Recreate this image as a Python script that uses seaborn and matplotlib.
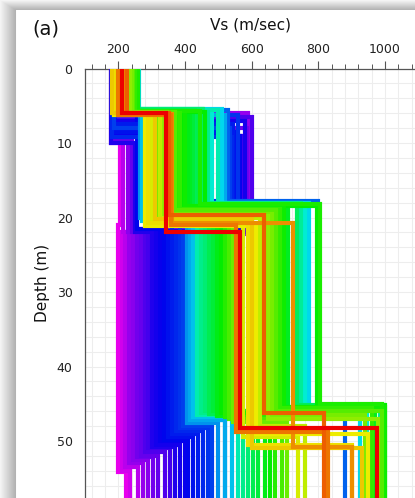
import colorsys
import numpy as np
import pandas as pd
import matplotlib
matplotlib.use("Agg")
import matplotlib.pyplot as plt
from matplotlib.ticker import MultipleLocator
import seaborn as sns

# ---- data ----
# misfit index (0 = best / red, 1 = worst / magenta), drawn worst first
misfit = [1.00, 0.98, 0.96, 0.93, 0.92, 0.90, 0.89, 0.87, 0.86,
          0.83, 0.82, 0.81, 0.80, 0.79, 0.78, 0.77, 0.76, 0.75,
          0.72, 0.70, 0.68, 0.66, 0.64, 0.62, 0.58, 0.55, 0.53, 0.52, 0.50,
          0.48, 0.47, 0.45, 0.43, 0.42, 0.40, 0.40, 0.39, 0.38, 0.37, 0.36,
          0.34, 0.33, 0.31, 0.30, 0.28, 0.24, 0.22, 0.20, 0.19, 0.17,
          0.12, 0.10, 0.08, 0.00]
vs1 = [178, 185, 180, 190, 182, 188, 180, 192, 185,
       178, 190, 184, 195, 180, 188, 182, 192, 186,
       250, 200, 196, 200, 198, 262, 255, 250, 260, 255, 245,
       258, 258, 250, 248, 245, 252, 245, 255, 258, 240, 250,
       235, 245, 230, 240, 235, 192, 185, 188, 190, 182,
       222, 200, 225, 212]
h1 = [10.0, 9.0, 9.6, 6.0, 9.8, 8.0, 9.5, 6.5, 9.0,
      10.0, 7.0, 9.0, 6.0, 8.5, 7.5, 9.2, 6.2, 8.0,
      5.6, 6.3, 6.0, 6.3, 6.0, 5.5, 5.6, 5.6, 5.5, 5.8, 5.5,
      5.6, 5.7, 5.9, 5.8, 6.0, 5.8, 5.8, 5.7, 5.7, 6.0, 6.0,
      6.1, 5.8, 6.0, 5.9, 6.0, 6.0, 6.0, 6.2, 6.1, 6.0,
      6.1, 6.2, 6.0, 6.0]
vs2 = [205, 595, 215, 590, 228, 585, 240, 600, 575,
       250, 580, 565, 255, 555, 545, 540, 560, 535,
       530, 520, 265, 520, 270, 510, 480, 500, 450, 470, 455,
       430, 440, 425, 415, 410, 395, 460, 400, 445, 380, 385,
       330, 370, 315, 345, 335, 325, 300, 280, 290, 310,
       362, 358, 352, 343]
h2 = [21.0, 22.0, 22.0, 22.2, 22.0, 21.5, 22.0, 22.0, 21.8,
      22.0, 18.0, 22.0, 21.5, 21.8, 17.8, 22.0, 21.0, 22.0,
      17.8, 18.0, 20.0, 21.0, 20.5, 18.0, 18.3, 19.5, 18.0, 19.0, 18.8,
      18.2, 19.2, 19.0, 18.6, 18.6, 19.4, 18.4, 18.5, 18.2, 19.0, 18.8,
      20.0, 19.0, 20.2, 19.5, 19.8, 20.0, 20.5, 21.2, 20.8, 20.2,
      20.8, 21.0, 19.6, 22.0]
vs3 = [200, 210, 220, 232, 244, 256, 268, 280, 290,
       300, 312, 324, 336, 348, 360, 372, 384, 395,
       800, 415, 405, 415, 425, 772, 760, 435, 748, 447, 459,
       735, 471, 483, 708, 495, 507, 795, 696, 805, 519, 684,
       531, 672, 543, 660, 648, 625, 575, 612, 588, 600,
       723, 552, 636, 564]
h3 = [54.2, 54.0, 53.5, 53.0, 52.6, 52.2, 52.0, 51.5, 51.0,
      50.8, 50.5, 50.0, 49.8, 49.4, 49.0, 48.6, 48.2, 48.0,
      46.0, 47.2, 47.6, 47.2, 46.8, 45.8, 45.6, 46.5, 45.3, 46.2, 46.0,
      45.2, 46.4, 46.0, 45.5, 46.6, 46.2, 45.2, 45.4, 45.0, 46.8, 45.6,
      47.0, 46.0, 47.5, 46.5, 47.0, 48.0, 49.5, 49.0, 50.5, 51.0,
      50.8, 48.8, 46.3, 48.2]
vs4 = [222, 235, 260, 275, 290, 305, 320, 340, 355,
       370, 385, 400, 410, 425, 440, 455, 470, 480,
       880, 520, 500, 520, 540, 925, 945, 560, 985, 575, 590,
       995, 605, 620, 970, 640, 655, 1000, 1000, 990, 670, 960,
       690, 990, 705, 940, 980, 760, 740, 950, 900, 930,
       900, 830, 818, 976]

BOTTOM = 60.0

# ---- figure ----
W, H = 415, 498
fig = plt.figure(figsize=(W / 100, H / 100), dpi=100)
fig.patch.set_facecolor("white")

# shadow frame of the screenshot panel
bg = fig.add_axes([0, 0, 1, 1], zorder=-10)
bg.axis("off")
yy, xx = np.mgrid[0:H, 0:W]
dx = np.clip(16 - xx, 0, None) / 16.0
dy = np.clip(10 - yy, 0, None) / 10.0
inside = (dx == 0) & (dy == 0)
d = np.maximum(dx, dy)
shade = 0.68 + 0.28 * d
shade[inside] = 1.0
img = np.dstack([shade, shade, shade])
bg.imshow(img, extent=(0, W, H, 0), aspect="auto", interpolation="bilinear")
bg.set_xlim(0, W)
bg.set_ylim(H, 0)

sns.set_style("white")
plt.rcParams["font.family"] = ["DejaVu Sans"]

ax = fig.add_axes([85 / W, 0, (W - 85) / W, (H - 68.5) / H])
ax.set_facecolor("white")


def colour(c):
    return colorsys.hsv_to_rgb(0.83 * c, 1.0, 0.93)


for i in range(len(misfit)):
    prof = pd.DataFrame({
        "Vs": [vs1[i], vs1[i], vs2[i], vs2[i], vs3[i], vs3[i], vs4[i], vs4[i]],
        "Depth": [0, h1[i], h1[i], h2[i], h2[i], h3[i], h3[i], BOTTOM],
    })
    sns.lineplot(data=prof, x="Vs", y="Depth", sort=False, estimator=None,
                 color=colour(misfit[i]), lw=3.0, ax=ax, legend=False,
                 solid_joinstyle="miter", zorder=3 + i * 0.01)

ax.set_xlim(100, 1090)
ax.set_ylim(57.65, 0)
ax.xaxis.tick_top()
ax.xaxis.set_label_position("top")
ax.xaxis.set_major_locator(MultipleLocator(200))
ax.xaxis.set_minor_locator(MultipleLocator(40))
ax.yaxis.set_major_locator(MultipleLocator(10))
ax.yaxis.set_minor_locator(MultipleLocator(2))
ax.set_axisbelow(True)
ax.grid(which="both", color="#ededed", lw=0.8)

for s in ["right", "bottom"]:
    ax.spines[s].set_visible(False)
for s in ["top", "left"]:
    ax.spines[s].set_color("#555555")
    ax.spines[s].set_linewidth(0.9)

ax.tick_params(which="major", direction="out", length=6, width=0.8,
               color="#555555", labelsize=9, labelcolor="#222222", pad=3)
ax.tick_params(which="minor", direction="out", length=3.5, width=0.7,
               color="#555555")
ax.tick_params(axis="x", which="both", top=True, bottom=False,
               labeltop=True, labelbottom=False)

ax.set_xlabel("Vs (m/sec)", fontsize=11, color="#111111", labelpad=10)
ax.set_ylabel("Depth (m)", fontsize=11, color="#111111", labelpad=5)

fig.text(32 / W, 1 - 29 / H, "(a)", fontsize=14, color="#111111",
         ha="left", va="center")

fig.savefig("out.png", dpi=100)
